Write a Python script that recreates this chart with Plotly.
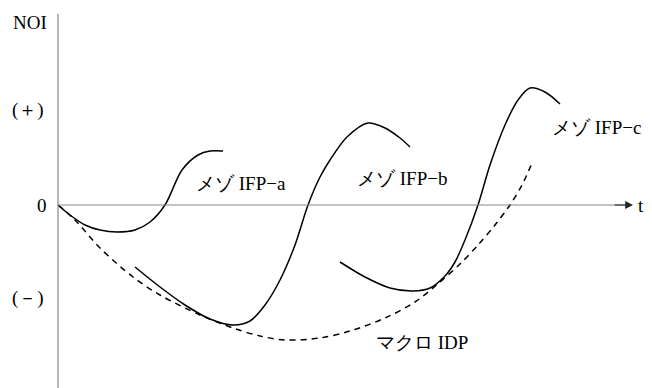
import plotly.graph_objects as go

# t / NOI coordinates (schematic units, origin at the axes crossing)
a_t = [0, 12, 27, 42, 59, 77, 92, 107, 124, 140, 152, 165]
a_noi = [0, -10, -20, -25, -27, -25, -17, 0, 35, 50, 54, 54]

b_t = [77, 102, 127, 152, 175, 192, 207, 222, 237, 250, 262, 272, 289, 310, 327, 342, 352]
b_noi = [-62, -82, -100, -114, -120, -116, -100, -75, -40, 0, 28, 45, 68, 82, 77, 67, 58]

c_t = [282, 307, 332, 355, 372, 387, 397, 407, 420, 432, 447, 460, 472, 487, 502]
c_noi = [-57, -72, -83, -86, -83, -71, -57, -35, 0, 40, 80, 105, 117, 113, 101]

idp_t = [0, 17, 42, 75, 102, 142, 175, 202, 227, 262, 292, 327, 357, 382, 402, 420, 437, 452, 464, 474]
idp_noi = [0, -15, -43, -72, -90, -110, -123, -131, -135, -133, -126, -113, -97, -77, -59, -40, -20, 0, 20, 42]

fig = go.Figure()
for xs, ys, dash in [(a_t, a_noi, "solid"), (b_t, b_noi, "solid"),
                     (c_t, c_noi, "solid"), (idp_t, idp_noi, "6px,5px")]:
    fig.add_trace(go.Scatter(x=xs, y=ys, mode="lines",
                             line=dict(color="black", width=1.5, dash=dash,
                                       shape="spline", smoothing=0.9),
                             showlegend=False, hoverinfo="skip"))

# axes
fig.add_shape(type="line", x0=0, x1=0, y0=191, y1=-185, line=dict(color="#888", width=1.2))
fig.add_shape(type="line", x0=0, x1=567, y0=0, y1=0, line=dict(color="#888", width=1.2))
fig.add_annotation(x=575, y=0, ax=555, ay=0, axref="x", ayref="y", text="",
                   showarrow=True, arrowhead=2, arrowsize=1.3, arrowwidth=1.2, arrowcolor="#222")

font = dict(family="Liberation Serif", size=19, color="black")
labels = [
    ("NOI", -28, 183, "center"), ("(＋)", -30, 95, "center"), ("0", -16, 0, "center"),
    ("(－)", -30, -93, "center"), ("t", 583, 0, "center"),
    ("メゾ IFP−a", 183, 22, "center"), ("メゾ IFP−b", 344, 27, "center"),
    ("メゾ IFP−c", 585, 78, "right"), ("マクロ IDP", 364, -137, "center"),
]
for txt, x, y, anc in labels:
    fig.add_annotation(x=x, y=y, text=txt, showarrow=False, font=font, xanchor=anc)

# page body has an 8px margin, so ranges are shifted to keep the axes where the reference has them
fig.update_layout(
    width=652, height=388, margin=dict(l=0, r=0, t=0, b=0),
    plot_bgcolor="white", paper_bgcolor="white",
    xaxis=dict(range=[-50, 602], visible=False),
    yaxis=dict(range=[-191, 197], visible=False),
)
fig.write_html("out.html")
